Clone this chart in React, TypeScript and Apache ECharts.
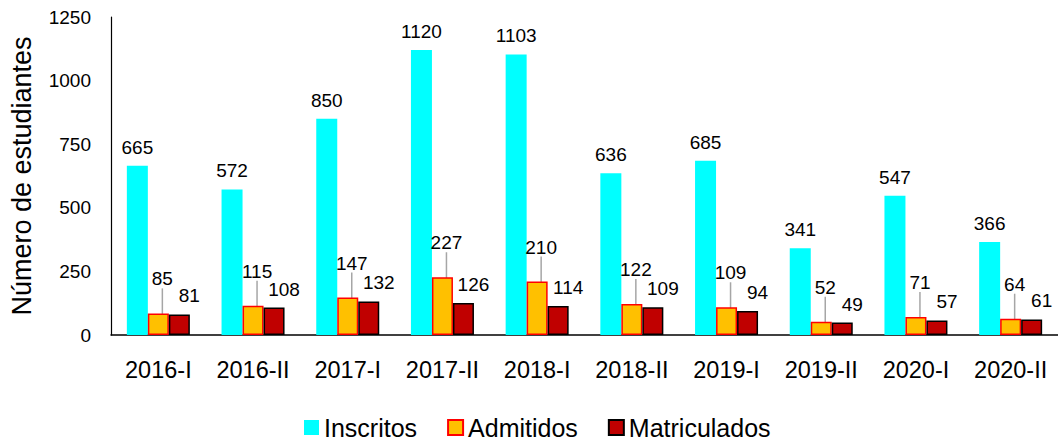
import React, { useEffect, useRef } from "react";
import * as echarts from "echarts";

const categories = ["2016-I", "2016-II", "2017-I", "2017-II", "2018-I", "2018-II", "2019-I", "2019-II", "2020-I", "2020-II"];
const inscritos = [665, 572, 850, 1120, 1103, 636, 685, 341, 547, 366];
const admitidos = [85, 115, 147, 227, 210, 122, 109, 52, 71, 64];
const matriculados = [81, 108, 132, 126, 114, 109, 94, 49, 57, 61];
const yTicks = { min: 0, max: 1250, interval: 250 };

const FONT = "'Liberation Sans', Arial, sans-serif";

export default function App() {
  const ref = useRef<HTMLDivElement>(null);
  useEffect(() => {
    if (!ref.current) return;
    const chart = echarts.init(ref.current, null, { renderer: "svg" });
    const labelBase = { show: true, position: "top", distance: 9, color: "#000", fontSize: 19, fontFamily: FONT };
    chart.setOption({
      animation: false,
      textStyle: { fontFamily: FONT },
      grid: { left: 109, top: 17, width: 954, bottom: 105 },
      legend: {
        left: 299,
        top: 410,
        itemWidth: 15,
        itemHeight: 15,
        itemGap: 30,
        icon: "rect",
        textStyle: { fontSize: 25, color: "#000", fontFamily: FONT },
        data: ["Inscritos", "Admitidos", "Matriculados"],
      },
      xAxis: {
        type: "category",
        data: categories,
        axisLine: { lineStyle: { color: "#000", width: 1.5 } },
        axisTick: { show: false },
        axisLabel: { color: "#000", fontSize: 23.5, margin: 23, interval: 0, fontFamily: FONT },
      },
      yAxis: {
        type: "value",
        min: yTicks.min,
        max: yTicks.max,
        interval: yTicks.interval,
        name: "Número de estudiantes",
        nameLocation: "middle",
        nameGap: 76,
        nameTextStyle: { color: "#000", fontSize: 27, fontFamily: FONT },
        axisLine: { show: true, lineStyle: { color: "#000", width: 1.2 } },
        axisTick: { show: false },
        splitLine: { show: false },
        axisLabel: { color: "#000", fontSize: 19, margin: 20, fontFamily: FONT, formatter: (v: number) => String(v) },
      },
      series: [
        {
          name: "Inscritos",
          type: "bar",
          data: inscritos,
          barWidth: 21,
          barGap: "0%",
          itemStyle: { color: "#00FFFF" },
          label: labelBase,
        },
        {
          name: "Admitidos",
          type: "bar",
          data: admitidos,
          barWidth: 21,
          barGap: "0%",
          itemStyle: { color: "#FFC000", borderColor: "#FF0000", borderWidth: 1.5 },
          label: labelBase,
          labelLayout: { dy: -16, dx: 4 },
          labelLine: { show: true, lineStyle: { color: "#A6A6A6", width: 1.5 } },
        },
        {
          name: "Matriculados",
          type: "bar",
          data: matriculados,
          barWidth: 21,
          barGap: "0%",
          itemStyle: { color: "#C00000", borderColor: "#000000", borderWidth: 1.5 },
          label: labelBase,
          labelLayout: { dx: 10, dy: 0 },
        },
      ],
    });
    return () => chart.dispose();
  }, []);
  return <div ref={ref} style={{ width: 1058, height: 440, position: "absolute", left: 0, top: 0 }} />;
}
